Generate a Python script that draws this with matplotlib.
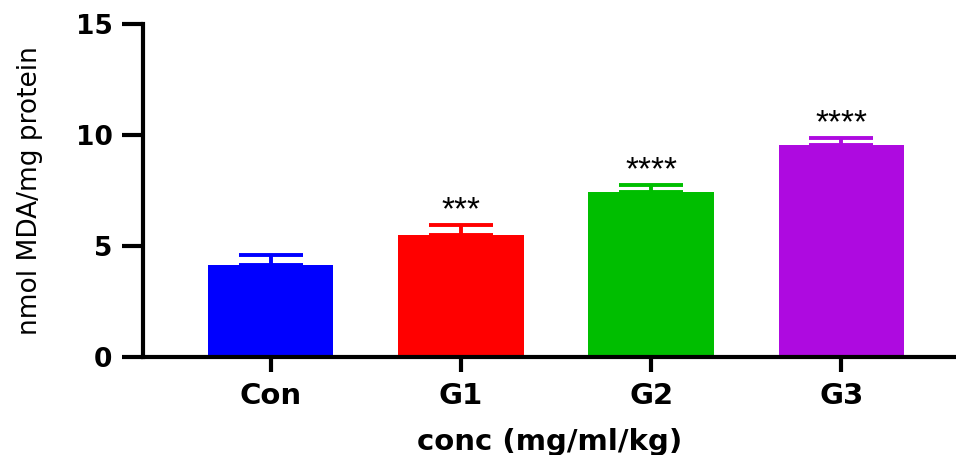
import numpy as np
import matplotlib
matplotlib.use("Agg")
import matplotlib.pyplot as plt

# ---- data ----
groups = ["Con", "G1", "G2", "G3"]
means = [4.15, 5.5, 7.45, 9.55]
errs = [0.45, 0.45, 0.32, 0.33]
stars = ["", "***", "****", "****"]
colors = ["#0000FF", "#FF0000", "#00BE00", "#AE0AE0"]

plt.rcParams["font.family"] = "DejaVu Sans"

fig = plt.figure(figsize=(9.56, 4.55), dpi=100)
ax = fig.add_axes([0.1496, 0.2154, 0.85, 0.7318])

x = np.arange(len(groups))
ax.bar(x, means, width=0.66, color=colors, zorder=2)
for xi, m, e, c, s in zip(x, means, errs, colors, stars):
    ax.errorbar(xi, m, yerr=[[0], [e]], color=c, capsize=23, elinewidth=2.8,
                capthick=2.8, zorder=1)
    if s:
        ax.text(xi, m + e + 0.25, s, ha="center", va="baseline", fontsize=24,
                family="Liberation Sans", color="black")

ax.set_xlim(-0.67, 3.6)
ax.set_ylim(0, 15)
ax.set_yticks([0, 5, 10, 15])
ax.set_xticks(x)
ax.set_xticklabels(groups)

for side in ["top", "right"]:
    ax.spines[side].set_visible(False)
for side in ["left", "bottom"]:
    ax.spines[side].set_linewidth(3)
ax.tick_params(axis="y", length=15, width=3, pad=7, labelsize=19)
ax.tick_params(axis="x", length=11, width=3, pad=7, labelsize=21)
for lab in ax.get_yticklabels() + ax.get_xticklabels():
    lab.set_fontweight("bold")

ax.set_xlabel("conc (mg/ml/kg)", fontsize=21, fontweight="bold", va="top")
ax.xaxis.set_label_coords(0.5, -0.213)
ax.set_ylabel("nmol MDA/mg protein", fontsize=19)
ax.yaxis.set_label_coords(-0.123, 0.5)

fig.savefig("out.png", dpi=100)
